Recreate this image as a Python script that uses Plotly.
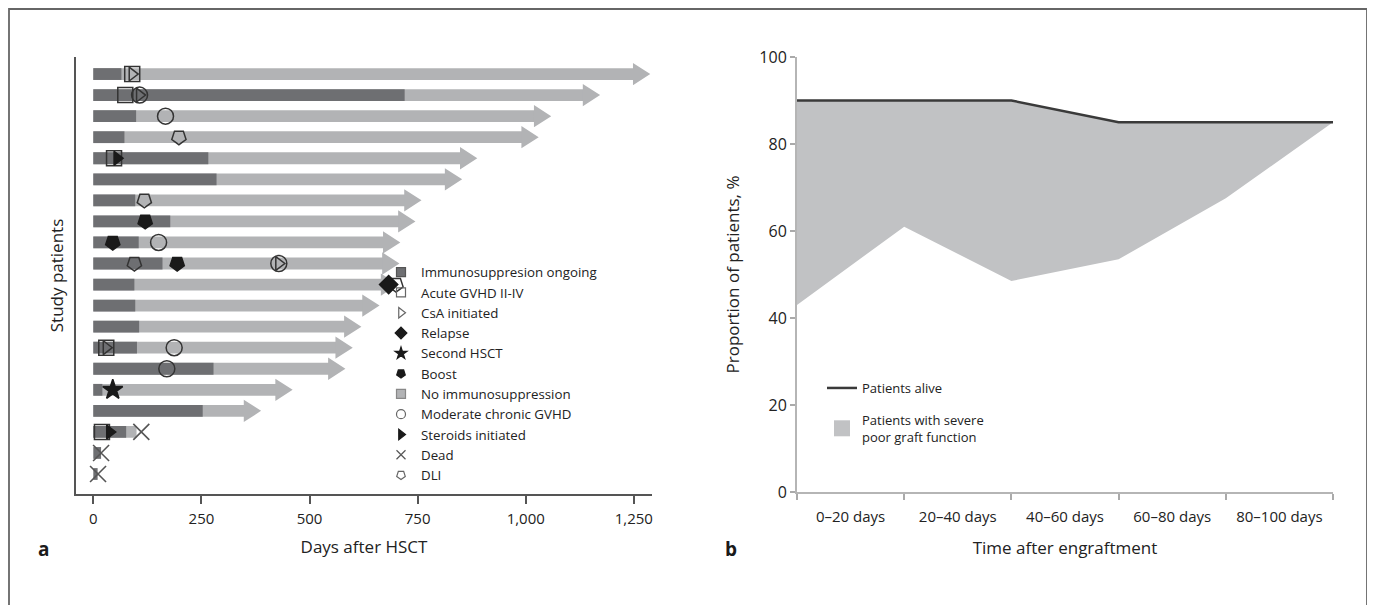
import plotly.graph_objects as go

# page body has an 8px margin, so the figure is drawn 8px in from the window corner
OFF = 8
W, H = 1375 - OFF, 605 - OFF

# ---------------- Panel a data ----------------
rows = list(range(1, 21))
bar_end = [1288, 1172, 1059, 1030, 888, 853, 759, 745, 710, 708, 705, 662, 620, 600, 583, 461, 388, 100, 0, 0]
has_arrow = [True] * 17 + [False] * 3
dark_end = [65, 720, 99, 72, 266, 285, 97, 178, 105, 160, 95, 97, 106, 101, 278, 21, 253, 76, 18, 10]

acute_rows = [1, 2, 5, 14, 18]
acute_days = [90, 74, 48, 30, 20]
csa_rows = [1, 2, 10, 14]
csa_days = [90, 107, 429, 30]
relapse_rows = [11]
relapse_days = [683]
hsct2_rows = [16]
hsct2_days = [45]
boost_rows = [8, 9, 10]
boost_days = [120, 45, 194]
cgvhd_rows = [2, 3, 9, 10, 14, 15]
cgvhd_days = [107, 167, 151, 429, 187, 170]
steroid_rows = [5, 18]
steroid_days = [55, 38]
dead_rows = [18, 19, 20]
dead_days = [111, 18, 11]
dli_rows = [4, 7, 10, 11]
dli_days = [198, 118, 95, 700]

x_ticks = [0, 250, 500, 750, 1000, 1250]

# ---------------- Panel b data ----------------
intervals = ["0–20 days", "20–40 days", "40–60 days", "60–80 days", "80–100 days"]
bounds = [0, 1, 2, 3, 4, 5]
alive = [90, 90, 90, 85, 85, 85]
severe_low = [43, 61, 48.5, 53.5, 67.5, 85]

# ---------------- styles ----------------
DARK = "#6e6f72"
LIGHT = "#b2b3b5"
INK = "#222222"
FONT = "Open Sans"
ARROW_LEN = 40      # days
ARROW_HALF = 0.53   # rows
BAR_W = 0.56

fig = go.Figure()

# light bars (shaft)
light_len = [(e - ARROW_LEN + 2) if a else e for e, a in zip(bar_end, has_arrow)]
fig.add_trace(go.Bar(y=rows, x=light_len, base=0, orientation="h", width=BAR_W,
                     marker=dict(color=LIGHT, line=dict(width=0)), showlegend=False,
                     xaxis="x", yaxis="y", hoverinfo="skip"))
# arrow heads
ax, ay = [], []
for r, e, a in zip(rows, bar_end, has_arrow):
    if a:
        ax += [e - ARROW_LEN, e, e - ARROW_LEN, e - ARROW_LEN, None]
        ay += [r - ARROW_HALF, r, r + ARROW_HALF, r - ARROW_HALF, None]
fig.add_trace(go.Scatter(x=ax, y=ay, mode="lines", fill="toself", fillcolor=LIGHT,
                         line=dict(width=0, color=LIGHT), showlegend=False, hoverinfo="skip",
                         xaxis="x", yaxis="y"))
# dark bars
fig.add_trace(go.Bar(y=rows, x=dark_end, base=0, orientation="h", width=BAR_W,
                     marker=dict(color=DARK, line=dict(width=0)), showlegend=False,
                     xaxis="x", yaxis="y", hoverinfo="skip"))

OPEN = "rgba(0,0,0,0)"
LC = "#333333"


def ev(rws, days, symbol, size, fill, lw=1.5, angle=0, lcol=LC):
    fig.add_trace(go.Scatter(x=days, y=rws, mode="markers", showlegend=False, hoverinfo="skip",
                             marker=dict(symbol=symbol, size=size, color=fill, angle=angle,
                                         line=dict(color=lcol, width=lw)),
                             xaxis="x", yaxis="y"))


ev(acute_rows, acute_days, "square", 15, OPEN)
ev(cgvhd_rows, cgvhd_days, "circle", 16, OPEN)
ev(csa_rows, csa_days, "triangle-right", 12, OPEN)
ev(dli_rows, dli_days, "pentagon", 15, OPEN, angle=180)
ev(boost_rows, boost_days, "pentagon", 15, "#1a1a1a", angle=180, lcol="#1a1a1a")
ev(steroid_rows, steroid_days, "triangle-right", 12, "#1a1a1a", lcol="#1a1a1a")
ev(relapse_rows, relapse_days, "diamond", 14, "#1a1a1a", lcol="#1a1a1a")
ev(hsct2_rows, hsct2_days, "star", 15, "#1a1a1a", lcol="#1a1a1a")
ev(dead_rows, dead_days, "x-thin-open", 16, "#555555", lw=1.6, lcol="#555555")

# legend entries panel a
legend_items = [
    ("Immunosuppresion ongoing", "square", DARK, "#555555"),
    ("Acute GVHD II-IV", "square-open", "#666666", "#666666"),
    ("CsA initiated", "triangle-right-open", "#666666", "#666666"),
    ("Relapse", "diamond", "#1a1a1a", "#1a1a1a"),
    ("Second HSCT", "star", "#1a1a1a", "#1a1a1a"),
    ("Boost", "pentagon", "#1a1a1a", "#1a1a1a"),
    ("No immunosuppression", "square", LIGHT, "#888888"),
    ("Moderate chronic GVHD", "circle-open", "#666666", "#666666"),
    ("Steroids initiated", "triangle-right", "#1a1a1a", "#1a1a1a"),
    ("Dead", "x-thin-open", "#555555", "#555555"),
    ("DLI", "pentagon-open", "#666666", "#666666"),
]
for name, sym, col, lcol in legend_items:
    ang = 180 if sym.startswith("pentagon") else 0
    fig.add_trace(go.Scatter(x=[None], y=[None], mode="markers", name=name, legend="legend",
                             marker=dict(symbol=sym, size=9, color=col, angle=ang,
                                         line=dict(color=lcol, width=1.2)),
                             xaxis="x", yaxis="y"))

# ---------------- Panel b traces ----------------
fig.add_trace(go.Scatter(x=bounds, y=severe_low, mode="lines", line=dict(width=0, color="#c1c2c4"),
                         showlegend=False, hoverinfo="skip", xaxis="x2", yaxis="y2"))
fig.add_trace(go.Scatter(x=bounds, y=alive, mode="lines", fill="tonexty", fillcolor="#c1c2c4",
                         line=dict(width=0, color="#c1c2c4"), showlegend=False, hoverinfo="skip",
                         xaxis="x2", yaxis="y2"))
fig.add_trace(go.Scatter(x=bounds, y=alive, mode="lines", name="Patients alive",
                         line=dict(width=2.5, color="#3a3a3a"), legend="legend2",
                         legendgroup="g1", xaxis="x2", yaxis="y2"))
fig.add_trace(go.Scatter(x=[None], y=[None], mode="markers",
                         name="Patients with severe<br>poor graft function", legend="legend2",
                         legendgroup="g2",
                         marker=dict(symbol="square", size=22, color="#c1c2c4", line=dict(width=0)),
                         xaxis="x2", yaxis="y2"))


def px(x):
    return (x - OFF) / W


def py(y):
    return 1 - (y - OFF) / H


axis_font = dict(family=FONT, size=15, color=INK)
title_font = dict(family=FONT, size=17, color=INK)

fig.update_layout(
    width=W, height=H,
    margin=dict(l=0, r=0, t=0, b=0, autoexpand=False),
    paper_bgcolor="white", plot_bgcolor="white",
    barmode="overlay",
    font=dict(family=FONT, color=INK),
    xaxis=dict(domain=[px(76), px(652)], anchor="y", range=[-40, 1292], automargin=False,
               tickvals=x_ticks, tickformat=",", ticks="outside", ticklen=8, tickwidth=1.5,
               tickcolor="#555555", showline=True, linecolor="#555555", linewidth=1.5,
               showgrid=False, zeroline=False, tickfont=axis_font, ticklabelstandoff=2,
               title=dict(text="Days after HSCT", font=title_font, standoff=14)),
    yaxis=dict(domain=[py(494), py(57)], anchor="x", range=[20.95, 0.19], automargin=False,
               showticklabels=False, ticks="", showline=True, linecolor="#555555", linewidth=1.5,
               showgrid=False, zeroline=False,
               title=dict(text="Study patients", font=title_font, standoff=6)),
    xaxis2=dict(domain=[px(797), px(1333)], anchor="y2", range=[0, 5], automargin=False,
                tickvals=[b + 0.5 for b in bounds[:-1]], ticktext=intervals, ticks="",
                minor=dict(ticks="outside", tick0=0, dtick=1, ticklen=6, tickwidth=1.5,
                           tickcolor="#aaaaaa", showgrid=False),
                showline=True, linecolor="#b5b5b5", linewidth=2, showgrid=False, zeroline=False,
                tickfont=axis_font, ticklabelstandoff=10,
                title=dict(text="Time after engraftment", font=title_font, standoff=17)),
    yaxis2=dict(domain=[py(492), py(57)], anchor="x2", range=[0, 100], dtick=20, automargin=False,
                ticks="outside", ticklen=5, tickwidth=1.5, tickcolor="#aaaaaa",
                showline=True, linecolor="#b5b5b5", linewidth=2, showgrid=False, zeroline=False,
                tickfont=dict(family=FONT, size=16, color=INK),
                title=dict(text="Proportion of patients, %", font=title_font, standoff=15)),
    legend=dict(x=px(381), y=py(257), xanchor="left", yanchor="top",
                font=dict(family=FONT, size=13.3, color=INK), bgcolor="rgba(0,0,0,0)",
                traceorder="normal", itemsizing="trace", tracegroupgap=0),
    legend2=dict(x=px(822), y=py(373), xanchor="left", yanchor="top",
                 font=dict(family=FONT, size=13, color=INK), bgcolor="rgba(0,0,0,0)",
                 traceorder="grouped", itemsizing="trace", tracegroupgap=12),
    showlegend=True,
    annotations=[
        dict(text="<b>a</b>", x=px(43), y=py(549), xref="paper", yref="paper", showarrow=False,
             xanchor="center", yanchor="middle", font=dict(family=FONT, size=19, color="#1a1a1a")),
        dict(text="<b>b</b>", x=px(731), y=py(549), xref="paper", yref="paper", showarrow=False,
             xanchor="center", yanchor="middle", font=dict(family=FONT, size=19, color="#1a1a1a")),
    ],
    shapes=[
        dict(type="rect", xref="paper", yref="paper", x0=1 / W, x1=px(1367), y0=-0.1, y1=1 - 1 / H,
             line=dict(color="#666666", width=1.8), fillcolor="rgba(0,0,0,0)", layer="below"),
    ],
)

fig.write_html("out.html")
